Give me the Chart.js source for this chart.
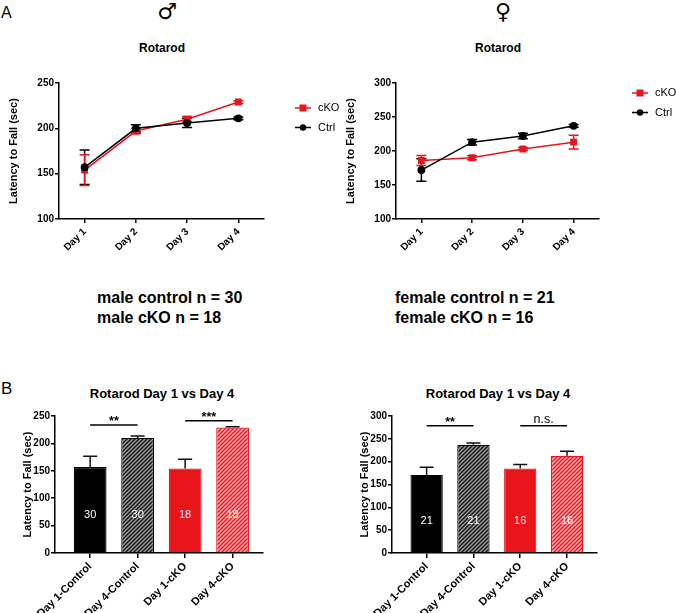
<!DOCTYPE html>
<html>
<head>
<meta charset="utf-8">
<script src="https://cdn.jsdelivr.net/npm/chart.js@4.4.1/dist/chart.umd.min.js"></script>
<style>
body{margin:0;background:#fff;width:676px;height:613px;position:relative;overflow:hidden;font-family:"Liberation Sans",Arial,sans-serif;}
canvas{position:absolute;}
.t{position:absolute;white-space:nowrap;color:#000;line-height:1;}
.c{transform:translateX(-50%);}
</style>
</head>
<body>
<div class="t" style="left:1px;top:5px;font-size:16px">A</div>
<div class="t" style="left:1px;top:380px;font-size:17px">B</div>
<div class="t c" style="left:167px;top:1px;font-size:22px;font-family:'DejaVu Sans'">♂</div>
<div class="t c" style="left:503px;top:1px;font-size:22px;font-family:'DejaVu Sans'">♀</div>
<div class="t c" style="left:162px;top:42px;font-size:12px;font-weight:bold">Rotarod</div>
<div class="t c" style="left:498px;top:42px;font-size:12px;font-weight:bold">Rotarod</div>
<div class="t" style="left:97px;top:290px;font-size:16px;font-weight:bold">male control n = 30</div>
<div class="t" style="left:97px;top:310px;font-size:16px;font-weight:bold">male cKO n = 18</div>
<div class="t" style="left:395px;top:290px;font-size:16px;font-weight:bold">female control n = 21</div>
<div class="t" style="left:395px;top:310px;font-size:16px;font-weight:bold">female cKO n = 16</div>
<div class="t c" style="left:162px;top:387px;font-size:13px;font-weight:bold">Rotarod Day 1 vs Day 4</div>
<div class="t c" style="left:498px;top:387px;font-size:13px;font-weight:bold">Rotarod Day 1 vs Day 4</div>

<canvas id="maleLine" width="340" height="220" style="left:0;top:60px;width:340px;height:220px"></canvas>
<canvas id="femaleLine" width="336" height="220" style="left:340px;top:60px;width:336px;height:220px"></canvas>
<canvas id="maleBar" width="340" height="213" style="left:0;top:400px;width:340px;height:213px"></canvas>
<canvas id="femaleBar" width="336" height="213" style="left:340px;top:400px;width:336px;height:213px"></canvas>

<script>
// values (mean, SEM)
const days = ['Day 1', 'Day 2', 'Day 3', 'Day 4'];
const maleCtrl = [157, 200, 206, 211];
const maleCtrlSem = [19, 4, 5, 1.5];
const maleCko = [154, 197, 210, 229];
const maleCkoSem = [17, 3, 3, 1.5];
const femaleCtrl = [172, 213, 222, 237];
const femaleCtrlSem = [16.5, 4, 4, 2];
const femaleCko = [186, 190, 203, 213];
const femaleCkoSem = [7.5, 3, 2, 10];

const barLabels = ['Day 1-Control', 'Day 4-Control', 'Day 1-cKO', 'Day 4-cKO'];
const maleBars = [157, 210, 154, 229];
const maleBarSem = [19.5, 3.5, 17, 1.2];
const femaleBars = [171, 237, 185, 213];
const femaleBarSem = [17, 3.8, 8.9, 9.7];
const maleN = ['30', '30', '18', '18'];
const femaleN = ['21', '21', '16', '16'];
const maleSig = ['**', '***'];
const maleSigY = [233.5, 241.3];
const femaleSig = ['**', 'n.s.'];
const femaleSigY = [278.5, 278.5];
const sigPairs = [[0, 1], [2, 3]];

const RED = '#e8161b';
Chart.defaults.font.family = '"Liberation Sans", Arial, sans-serif';
Chart.defaults.color = '#000';

function hatch(bg, fg) {
	const c = document.createElement('canvas');
	c.width = c.height = 4;
	const g = c.getContext('2d');
	g.fillStyle = bg;
	g.fillRect(0, 0, 4, 4);
	g.strokeStyle = fg;
	g.lineWidth = 1.3;
	g.beginPath();
	g.moveTo(0, 4); g.lineTo(4, 0);
	g.moveTo(-1, 1); g.lineTo(1, -1);
	g.moveTo(3, 5); g.lineTo(5, 3);
	g.stroke();
	return g.createPattern(c, 'repeat');
}

const extras = {
	id: 'extras',
	beforeDatasetsDraw(chart, args, o) {
		if (o.kind !== 'line') return;
		const ctx = chart.ctx, y = chart.scales.y;
		ctx.save();
		ctx.lineWidth = 1.5;
		chart.data.datasets.forEach((ds, di) => {
			const meta = chart.getDatasetMeta(di);
			ctx.strokeStyle = ds.borderColor;
			ds.sem.forEach((s, i) => {
				const x = meta.data[i].x;
				const t = y.getPixelForValue(ds.data[i] + s), b = y.getPixelForValue(ds.data[i] - s);
				ctx.beginPath();
				ctx.moveTo(x, t); ctx.lineTo(x, b);
				ctx.moveTo(x - 5, t); ctx.lineTo(x + 5, t);
				ctx.moveTo(x - 5, b); ctx.lineTo(x + 5, b);
				ctx.stroke();
			});
		});
		ctx.restore();
	},
	afterDatasetsDraw(chart, args, o) {
		const ctx = chart.ctx, y = chart.scales.y, x = chart.scales.x, a = chart.chartArea;
		ctx.save();
		if (o.kind === 'line') {
			// legend: line + marker + label
			ctx.font = '11px "Liberation Sans", Arial, sans-serif';
			ctx.textBaseline = 'middle';
			[1, 0].forEach((di, k) => {
				const ds = chart.data.datasets[di];
				const lx = a.right + o.legendDx, ly = a.top + o.legendDy + k * 19.5;
				ctx.strokeStyle = ds.borderColor;
				ctx.fillStyle = ds.borderColor;
				ctx.lineWidth = 1.5;
				ctx.beginPath(); ctx.moveTo(lx, ly); ctx.lineTo(lx + 16, ly); ctx.stroke();
				if (ds.pointStyle === 'rect') ctx.fillRect(lx + 4.5, ly - 3.5, 7, 7);
				else { ctx.beginPath(); ctx.arc(lx + 8, ly, 3.2, 0, Math.PI * 2); ctx.fill(); }
				ctx.fillStyle = '#000';
				ctx.fillText(ds.label, lx + 23, ly);
			});
		} else {
			const ds = chart.data.datasets[0];
			const meta = chart.getDatasetMeta(0);
			ctx.strokeStyle = '#111';
			ctx.lineWidth = 1.5;
			ds.sem.forEach((s, i) => {
				const px = meta.data[i].x;
				const t = y.getPixelForValue(ds.data[i].y + s), b = y.getPixelForValue(ds.data[i].y);
				ctx.beginPath();
				ctx.moveTo(px, b); ctx.lineTo(px, t);
				ctx.moveTo(px - 7, t); ctx.lineTo(px + 7, t);
				ctx.stroke();
			});
			// n inside bars
			ctx.font = '11px "Liberation Sans", Arial, sans-serif';
			ctx.textAlign = 'center';
			ctx.textBaseline = 'middle';
			ctx.fillStyle = '#fff';
			o.nLabels.forEach((n, i) => ctx.fillText(n, x.getPixelForValue(i), y.getPixelForValue(70)));
			// significance brackets
			ctx.strokeStyle = '#000';
			ctx.fillStyle = '#000';
			ctx.textBaseline = 'alphabetic';
			sigPairs.forEach((p, k) => {
				const ly = y.getPixelForValue(o.sigY[k]);
				const x1 = x.getPixelForValue(p[0]), x2 = x.getPixelForValue(p[1]);
				ctx.beginPath(); ctx.moveTo(x1, ly); ctx.lineTo(x2, ly); ctx.stroke();
				const txt = o.sig[k];
				ctx.font = (txt === 'n.s.' ? '' : 'bold ') + '12.5px "Liberation Sans", Arial, sans-serif';
				ctx.fillText(txt, (x1 + x2) / 2, ly - (txt === 'n.s.' ? 2.5 : 0));
			});
		}
		ctx.restore();
	}
};

function axisStyle(tickFont) {
	return {
		grid: { drawOnChartArea: false, drawTicks: true, tickLength: 4, color: '#000', lineWidth: 1.5, offset: false },
		border: { color: '#000', width: 1.5 },
		ticks: { color: '#000', font: { size: tickFont, weight: 'bold' } },
	};
}

function lineChart(id, ctrl, ctrlSem, cko, ckoSem, yMax, box) {
	const xs = axisStyle(10), ys = axisStyle(10);
	xs.type = 'category';
	xs.offset = true;
	xs.ticks.maxRotation = 45;
	xs.ticks.minRotation = 45;
	xs.ticks.padding = 3;
	xs.afterFit = (s) => { s.height = box.xH; };
	ys.min = 100;
	ys.max = yMax;
	ys.ticks.stepSize = 50;
	ys.ticks.padding = 1;
	ys.title = { display: true, text: 'Latency to Fall (sec)', color: '#000', font: { size: 11, weight: 'bold' }, padding: { top: box.titlePad, bottom: 0 } };
	ys.afterFit = (s) => { s.width = box.axisW; };
	return new Chart(document.getElementById(id), {
		type: 'line',
		data: {
			labels: days,
			datasets: [
				{ label: 'Ctrl', data: ctrl, sem: ctrlSem, borderColor: '#000', backgroundColor: '#000', pointStyle: 'circle', pointRadius: 3.2, borderWidth: 1.5, order: 0 },
				{ label: 'cKO', data: cko, sem: ckoSem, borderColor: RED, backgroundColor: RED, pointStyle: 'rect', pointRadius: 3.8, borderWidth: 1.5, order: 1 },
			],
		},
		options: {
			responsive: false,
			animation: false,
			layout: { padding: { top: box.padTop, right: box.padRight, left: 0, bottom: 0 } },
			plugins: { legend: { display: false }, tooltip: { enabled: false }, extras: { kind: 'line', legendDx: box.legendDx, legendDy: box.legendDy } },
			scales: { x: xs, y: ys },
		},
		plugins: [extras],
	});
}

function barChart(id, vals, sem, nLabels, sig, sigY, yMax, box) {
	const xs = axisStyle(11), ys = axisStyle(10);
	xs.type = 'linear';
	xs.offset = false;
	xs.min = -0.74;
	xs.max = 3.64;
	xs.grid.tickLength = 5;
	xs.afterBuildTicks = (s) => { s.ticks = barLabels.map((l, i) => ({ value: i })); };
	xs.ticks.callback = (v) => barLabels[v];
	xs.ticks.autoSkip = false;
	xs.ticks.maxRotation = 45;
	xs.ticks.minRotation = 45;
	xs.ticks.padding = 2;
	xs.afterFit = (s) => { s.height = box.xH; };
	ys.min = 0;
	ys.max = yMax;
	ys.ticks.stepSize = 50;
	ys.ticks.padding = 1;
	ys.title = { display: true, text: 'Latency to Fall (sec)', color: '#000', font: { size: 11, weight: 'bold' }, padding: { top: box.titlePad, bottom: 0 } };
	ys.afterFit = (s) => { s.width = box.axisW; };
	return new Chart(document.getElementById(id), {
		type: 'bar',
		data: {
			datasets: [{
				data: vals.map((v, i) => ({ x: i, y: v })),
				sem: sem,
				backgroundColor: ['#000', hatch('#151515', '#a0a0a0'), RED, hatch(RED, '#f9c4c4')],
				borderColor: ['#000', '#000', RED, RED],
				borderWidth: 1.2,
				categoryPercentage: 1,
				barPercentage: 0.69,
			}],
		},
		options: {
			responsive: false,
			animation: false,
			layout: { padding: { top: box.padTop, right: box.padRight, left: 0, bottom: 0 } },
			plugins: { legend: { display: false }, tooltip: { enabled: false }, extras: { kind: 'bar', nLabels: nLabels, sig: sig, sigY: sigY } },
			scales: { x: xs, y: ys },
		},
		plugins: [extras],
	});
}

lineChart('maleLine', maleCtrl, maleCtrlSem, maleCko, maleCkoSem, 250,
	{ axisW: 59, padTop: 23, padRight: 76, xH: 61, titlePad: 7, legendDx: 31, legendDy: 25 });
lineChart('femaleLine', femaleCtrl, femaleCtrlSem, femaleCko, femaleCkoSem, 300,
	{ axisW: 56, padTop: 23, padRight: 77, xH: 61, titlePad: 4, legendDx: 33, legendDy: 10 });
barChart('maleBar', maleBars, maleBarSem, maleN, maleSig, maleSigY, 250,
	{ axisW: 55, padTop: 16, padRight: 77, xH: 60, titlePad: 21 });
barChart('femaleBar', femaleBars, femaleBarSem, femaleN, femaleSig, femaleSigY, 300,
	{ axisW: 52, padTop: 16, padRight: 79, xH: 60, titlePad: 18 });
</script>
</body>
</html>
